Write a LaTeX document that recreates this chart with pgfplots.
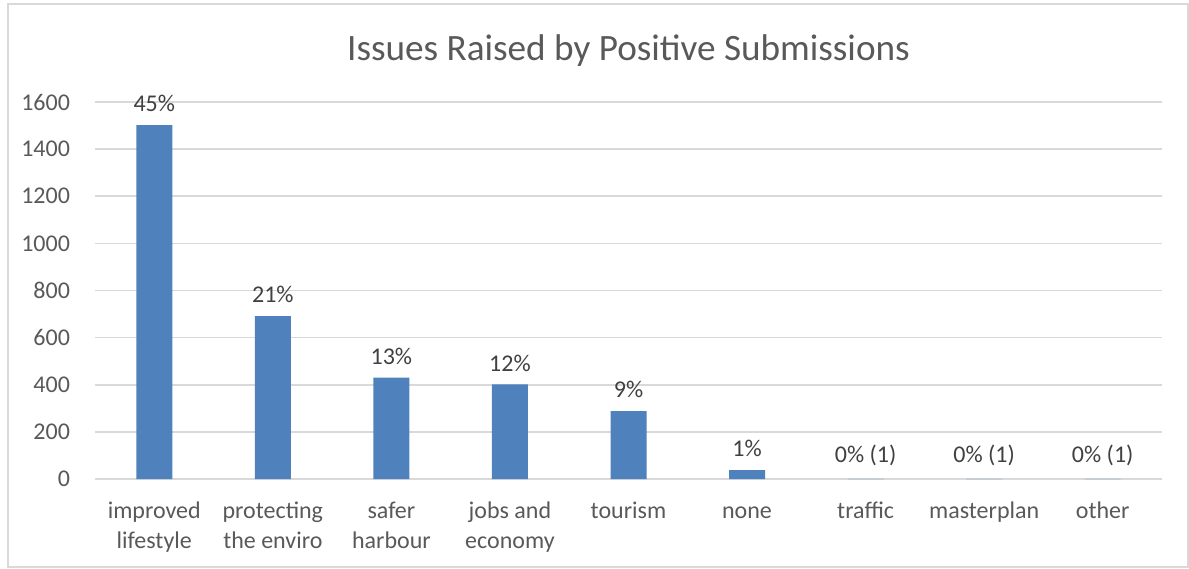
\documentclass[border=0pt]{standalone}
\usepackage{pgfplots}
\pgfplotsset{compat=1.18}
\usepackage{fontspec}
\setmainfont{Carlito}
\definecolor{barblue}{HTML}{4F81BD}
\definecolor{gridgrey}{HTML}{D9D9D9}
\definecolor{txtgrey}{HTML}{595959}
\definecolor{lblgrey}{HTML}{404040}
\begin{document}
\begin{tikzpicture}
\useasboundingbox (-47.5pt,-44.5pt) rectangle (547pt,239.5pt);
\draw[gridgrey, line width=0.6pt] (-43.5pt,-44pt) rectangle (546.5pt,237.5pt);
\begin{axis}[
  at={(0,0)}, anchor=south west,
  scale only axis,
  width=533.5pt, height=188.5pt,
  xmin=-0.5, xmax=8.5, ymin=0, ymax=1600,
  ytick={0,200,...,1600},
  xtick={0,...,8},
  xticklabels={\strut improved\\\strut lifestyle, \strut protecting\\\strut the enviro, \strut safer\\\strut harbour, \strut jobs and\\\strut economy, \strut tourism, \strut none, \strut traffic, \strut masterplan, \strut other},
  xticklabel style={align=center, font=\fontsize{12}{15}\selectfont, text=txtgrey, anchor=north, yshift=-1.5pt},
  yticklabel style={font=\fontsize{12}{14}\selectfont, text=txtgrey, xshift=-9pt},
  /pgf/number format/assume math mode=true,
  /pgf/number format/1000 sep={},
  axis line style={draw=none},
  axis x line*=bottom,
  x axis line style={draw=gridgrey, line width=0.8pt},
  tick style={draw=none},
  ymajorgrids,
  grid style={gridgrey, line width=0.8pt},
  ybar, bar width=18pt,
  title={Issues Raised by Positive Submissions},
  title style={font=\fontsize{18.6}{22}\selectfont, text=txtgrey, yshift=8pt},
  point meta=explicit symbolic,
  nodes near coords,
  nodes near coords style={font=\fontsize{12}{14}\selectfont, text=lblgrey, anchor=south, yshift=3pt},
]
\addplot[fill=barblue, draw=none] coordinates {
  (0,1502) [45\%]
  (1,691) [21\%]
  (2,430) [13\%]
  (3,402) [12\%]
  (4,288) [9\%]
  (5,38) [1\%]
  (6,1) [0\% (1)]
  (7,1) [0\% (1)]
  (8,1) [0\% (1)]
};
\end{axis}
\end{tikzpicture}
\end{document}
